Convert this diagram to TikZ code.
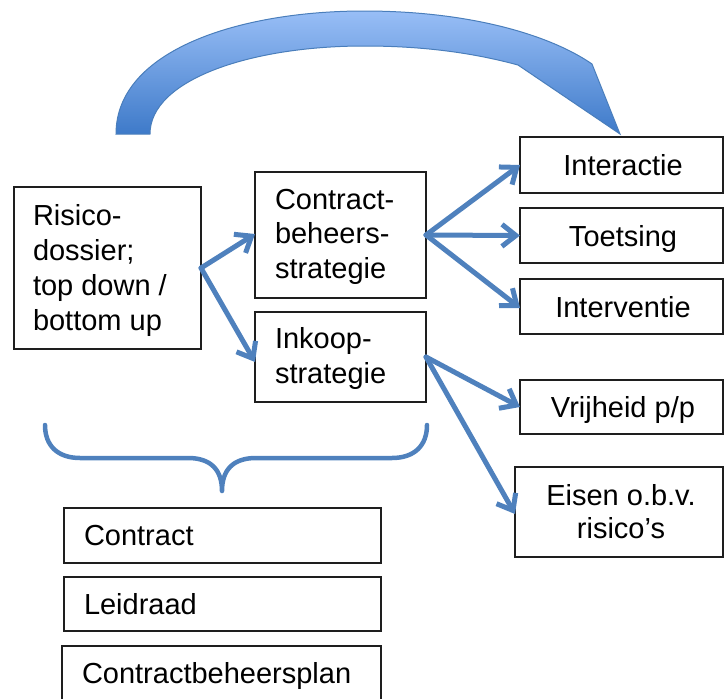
\documentclass[tikz,border=0pt]{standalone}
\usepackage{fontspec}
\setmainfont{Liberation Sans}
\usetikzlibrary{arrows.meta}
\definecolor{arrowblue}{RGB}{79,129,189}
\definecolor{lightblue}{RGB}{152,190,246}
\definecolor{darkblue}{RGB}{62,122,201}
\definecolor{edgeblue}{RGB}{74,126,187}
\definecolor{boxline}{RGB}{30,30,30}
\begin{document}
\begin{tikzpicture}[x=1pt,y=-1pt,
  box/.style={draw=boxline, line width=1.3pt, rectangle, inner sep=0pt, outer sep=0pt},
  txt/.style={inner sep=0pt, outer sep=0pt, font=\fontsize{29}{35}\selectfont},
  conn/.style={draw=arrowblue, line width=5pt, line cap=round,
    -{Straight Barb[length=14pt,width=22pt,line width=5pt]}},
  bracestyle/.style={draw=arrowblue, line width=4.5pt, line cap=round, line join=round}]
\useasboundingbox (0,0) rectangle (724,699);

% big curved arrow
\shade[top color=lightblue, bottom color=darkblue, draw=edgeblue, line width=1pt]
  (116,134) .. controls (116,50) and (240,11) .. (364,11)
  .. controls (470,11) and (550,35) .. (592,64)
  -- (620,134) -- (518,65)
  .. controls (470,52) and (420,46) .. (364,46)
  .. controls (250,46) and (150,80) .. (150,134) -- cycle;

% boxes
\node[box, minimum width=187, minimum height=162] (risk) at (107.5,268) {};
\node[box, minimum width=171, minimum height=126] (cbs) at (340.5,235) {};
\node[box, minimum width=171, minimum height=90] (ink) at (340.5,357) {};
\node[box, minimum width=203, minimum height=56] (inter) at (621.5,165) {};
\node[box, minimum width=203, minimum height=55] (toets) at (621.5,235.5) {};
\node[box, minimum width=203, minimum height=55] (interv) at (621.5,306.5) {};
\node[box, minimum width=203, minimum height=54] (vrij) at (621.5,407) {};
\node[box, minimum width=208, minimum height=90] (eisen) at (619,512) {};
\node[box, minimum width=317, minimum height=55] (contr) at (222.5,535.5) {};
\node[box, minimum width=317, minimum height=54] (leid) at (222.5,604) {};
\node[box, minimum width=319, minimum height=56] (plan) at (221.5,674) {};

% texts
\node[txt, anchor=base west] (r1) at (33,225) {Risico-};
\node[txt, anchor=base west] (r2) at (33,260) {dossier;};
\node[txt, anchor=base west] (r3) at (33,295) {top down /};
\node[txt, anchor=base west] (r4) at (33,330) {bottom up};
\node[txt, anchor=base west] (c1) at (275,209) {Contract-};
\node[txt, anchor=base west] (c2) at (275,243) {beheers-};
\node[txt, anchor=base west] (c3) at (275,278) {strategie};
\node[txt, anchor=base west] (i1) at (275,348) {Inkoop-};
\node[txt, anchor=base west] (i2) at (275,383) {strategie};
\node[txt, anchor=base] (t1) at (623,175) {Interactie};
\node[txt, anchor=base] (t2) at (623,246.5) {Toetsing};
\node[txt, anchor=base] (t3) at (623,317) {Interventie};
\node[txt, anchor=base] (t4) at (623,417.5) {Vrijheid p/p};
\node[txt, anchor=base] (t5) at (621,505) {Eisen o.b.v.};
\node[txt, anchor=base] (t6) at (621,538) {risico’s};
\node[txt, anchor=base west] (b1) at (84,545) {Contract};
\node[txt, anchor=base west] (b2) at (84,614) {Leidraad};
\node[txt, anchor=base west] (b3) at (82,683) {Contractbeheersplan};

% connectors
\draw[conn] (risk.east) -- ([yshift=1pt]cbs.west);
\draw[conn] (risk.east) -- ([yshift=-5pt]ink.west);
\draw[conn] (cbs.east) -- (inter.west);
\draw[conn] (cbs.east) -- (toets.west);
\draw[conn] (cbs.east) -- ([yshift=-1.5pt]interv.west);
\draw[conn] (ink.east) -- (vrij.west);
\draw[conn] (ink.east) -- ([yshift=-2pt]eisen.west);

% brace
\draw[bracestyle] (45,425) .. controls (45,446) and (58,458) .. (80,458)
  -- (188,458) .. controls (211,458) and (222,470) .. (222,491)
  .. controls (222,470) and (233,458) .. (256,458)
  -- (392,458) .. controls (414,458) and (427,446) .. (427,425);
\end{tikzpicture}
\end{document}
